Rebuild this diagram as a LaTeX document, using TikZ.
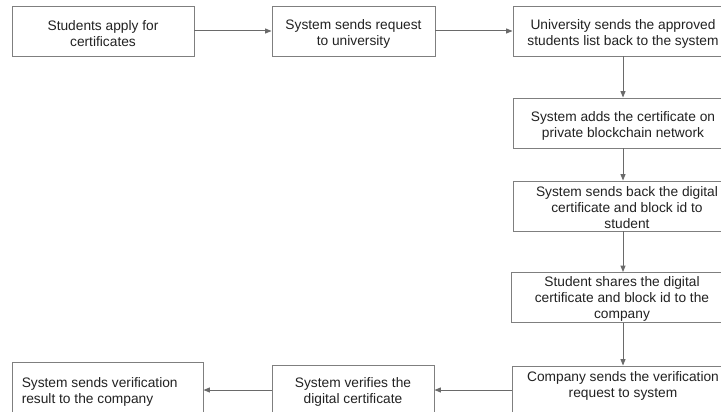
\documentclass[tikz,border=0pt]{standalone}
\usepackage{fontspec}
\setmainfont{Liberation Sans}
\usetikzlibrary{arrows.meta,calc}
\definecolor{boxline}{HTML}{7F7F7F}
\definecolor{flowline}{HTML}{6A6A6A}
\definecolor{txt}{HTML}{222222}
\begin{document}
\begin{tikzpicture}[x=1pt,y=-1pt,
  stepbox/.style={draw=boxline, line width=0.9pt, fill=white, rectangle,
    inner sep=0pt, minimum height=50pt},
  steptext/.style={inner sep=0pt, align=center, text=txt,
    font=\fontsize{13.75}{16}\selectfont},
  flow/.style={draw=flowline, line width=1pt,
    -{Triangle[length=6.5pt,width=5pt]}}]
\useasboundingbox (0,0) rectangle (721,412);
\clip (0,0) rectangle (721,412);
\fill[white] (0,0) rectangle (721,412);

% boxes: top row
\node[stepbox, minimum width=182pt] (apply) at (103,31) {};
\node[stepbox, minimum width=163pt] (request) at (353.5,31) {};
\node[stepbox, minimum width=220pt] (approved) at (623,31) {};
% boxes: right column
\node[stepbox, minimum width=220pt] (adds) at (623,123) {};
\node[stepbox, minimum width=220pt] (sendsback) at (623,206) {};
\node[stepbox, minimum width=222pt] (shares) at (622,297.5) {};
\node[stepbox, minimum width=222pt] (company) at (623,391) {};
% boxes: bottom row
\node[stepbox, minimum width=162pt] (verifies) at (353,390) {};
\node[stepbox, minimum width=191pt] (result) at (107.5,387) {};

% box texts
\node[steptext] (t-apply) at ($(apply.center)+(0,3)$)
  {Students apply for\\certificates};
\node[steptext] (t-request) at ($(request.center)+(0,3)$)
  {System sends request\\to university};
\node[steptext] (t-approved) at ($(approved.center)+(0,3)$)
  {University sends the approved\\students list back to the system};
\node[steptext] (t-adds) at ($(adds.center)+(0,3)$)
  {System adds the certificate on\\private blockchain network};
\node[steptext] (t-sendsback) at ($(sendsback.center)+(4,1.5)$)
  {System sends back the digital\\certificate and block id to\\student};
\node[steptext] (t-shares) at ($(shares.center)+(0,1.5)$)
  {Student shares the digital\\certificate and block id to the\\company};
\node[steptext] (t-company) at ($(company.center)+(0,-5)$)
  {Company sends the verification\\request to system};
\node[steptext] (t-verifies) at ($(verifies.center)+(0,1.5)$)
  {System verifies the\\digital certificate};
\node[steptext, align=left, anchor=west] (t-result)
  at ($(result.west)+(10,4.5)$)
  {System sends verification\\result to the company};

% connectors
\draw[flow] (apply.east) -- (request.west);
\draw[flow] (request.east) -- (approved.west);
\draw[flow] (approved.south) -- (adds.north);
\draw[flow] (adds.south) -- (sendsback.north);
\draw[flow] (sendsback.south) -- (sendsback.south |- shares.north);
\draw[flow] (shares.south -| company.north) -- (company.north);
\draw[flow] (company.west |- verifies.east) -- (verifies.east);
\draw[flow] (verifies.west) -- (verifies.west -| result.east);
\end{tikzpicture}
\end{document}
